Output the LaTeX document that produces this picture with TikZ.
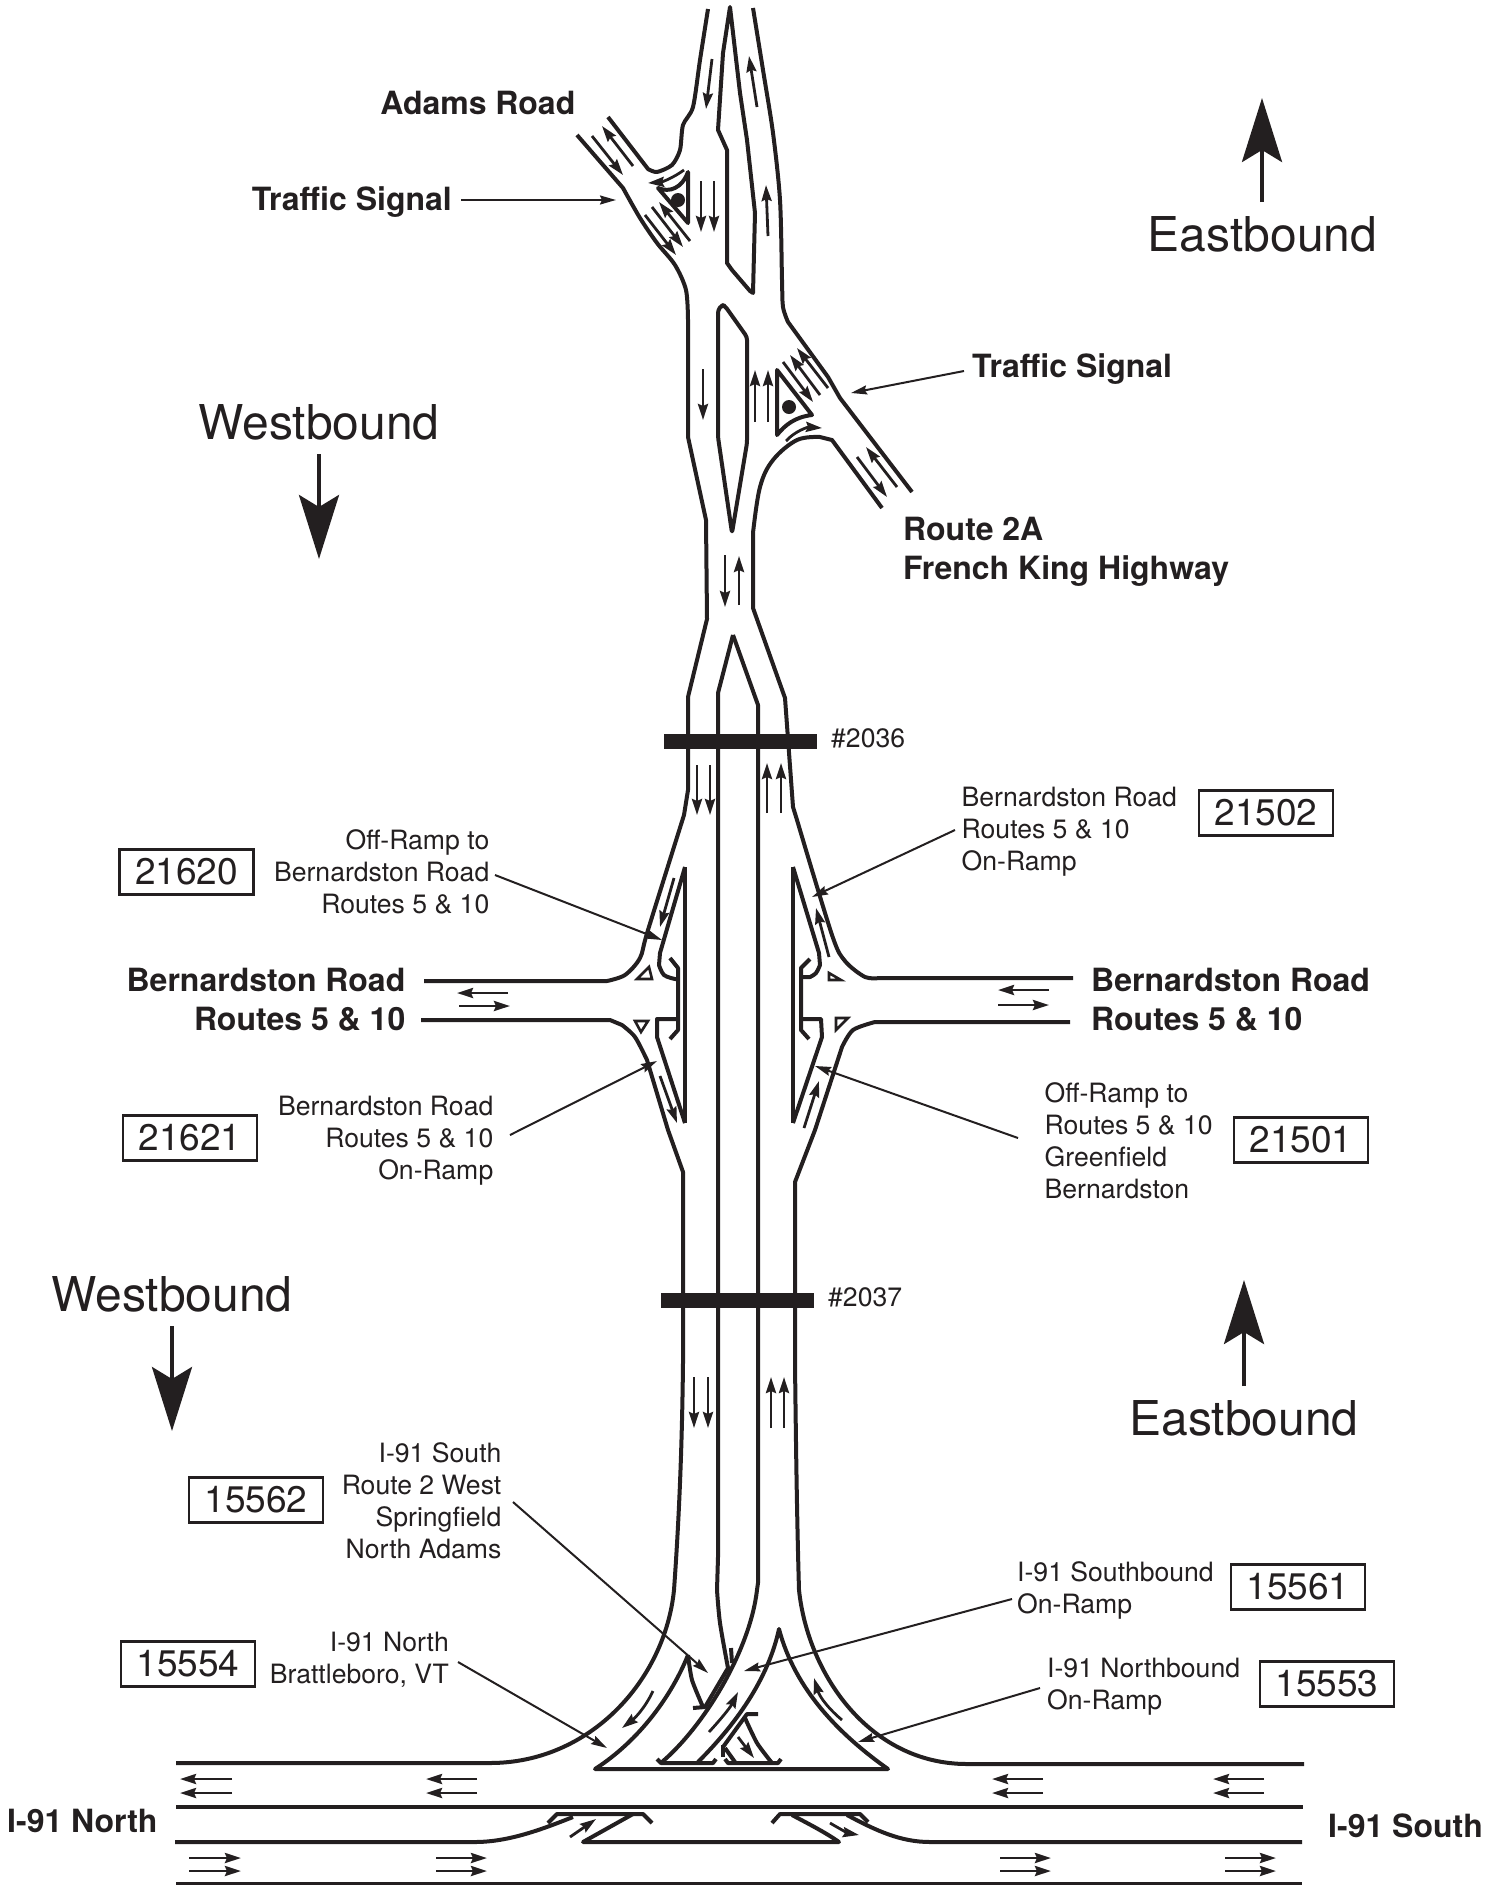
\documentclass[tikz,border=0pt]{standalone}
\usepackage{fontspec}
\setmainfont{TeX Gyre Heros}
\usetikzlibrary{arrows.meta}
\definecolor{ink}{HTML}{231F20}
\tikzset{
  road/.style={draw=ink,line width=4pt,line join=round},
  bar/.style={fill=ink,draw=none},
  trav/.style={draw=ink,line width=2.8pt,-{Stealth[length=16pt,width=10pt,inset=2pt]}},
  leader/.style={draw=ink,line width=2pt,-{Stealth[length=16pt,width=9pt,inset=2pt]}},
  compass/.style={draw=ink,line width=4pt,-{Stealth[length=64pt,width=40pt,inset=12pt]}},
  lbl/.style={text=ink,inner sep=0pt,font=\fontsize{26.6}{32}\selectfont},
  blbl/.style={text=ink,inner sep=0pt,font=\fontsize{32}{39}\selectfont\bfseries},
  dirlbl/.style={text=ink,inner sep=0pt,font=\fontsize{48}{57}\selectfont},
  numbox/.style={draw=ink,line width=2.6pt,text=ink,inner sep=0pt,minimum width=134pt,minimum height=45pt,font=\fontsize{37}{44}\selectfont},
  dot/.style={circle,fill=ink,inner sep=0pt,minimum size=14pt},
  tri/.style={draw=ink,line width=2.6pt,line join=miter}
}
\begin{document}
\begin{tikzpicture}[x=1pt,y=-1pt]
\path[use as bounding box] (0,0) rectangle (1500,1885);

%% Top section: outer edges
\draw[road] plot[smooth,tension=.45] coordinates {(708,9)(700,60)(693,107)(683,125)(680,150)(672,165)(657,172)(648,169)} -- (608,117);
\draw[road] (577,135) -- plot[smooth,tension=.5] coordinates {(623,188)(640,218)(657,243)(675,265)(686,290)(688,320)} -- (688,437) -- (706,520) -- (707,619) -- (688,697) -- (688,790) -- plot[smooth,tension=.5] coordinates {(684,815)(648,930)(640,958)(625,975)(607,981)} -- (424,981);
\draw[road] plot[smooth,tension=.5] coordinates {(753,8)(763,70)(773,133)(780,200)(782,280)(783,307)(788,322)} -- (828,377) -- (840,398) -- (912,492);
\draw[road] (882,508) -- (832,440) -- plot[smooth,tension=.6] coordinates {(820,437)(797,440)(773,460)(760,487)(753,533)} -- (753,608) -- (785,698) -- (793,807) -- plot[smooth,tension=.5] coordinates {(797,820)(832,935)(845,961)(865,977)(880,978)} -- (1073,978);
\draw[road] (1070,1022) -- plot[smooth,tension=.5] coordinates {(875,1022)(853,1030)(842,1047)} -- (815,1130) -- (795,1182) -- (795,1363) .. controls (796,1450) and (797,1520) .. (799,1590) .. controls (808,1675) and (870,1764) .. (967,1764) -- (1304,1764);
\draw[road] (421,1020) -- (610,1020) -- plot[smooth,tension=.5] coordinates {(622,1025)(635,1037)(647,1060)} -- (668,1130) -- (683,1172) -- (683,1363) .. controls (682,1450) and (679,1520) .. (674,1590) .. controls (665,1680) and (590,1763) .. (490,1763) -- (176,1763);

%% Medians
\draw[road] (730,7) -- (723,53) -- (718,130) -- (727,150) -- (727,263) -- (732,270) -- (750,291) -- (753,293) -- (755,213) -- (747,140) -- (740,93) -- cycle;
\draw[road,rounded corners=3pt] (722,305) -- (718,310) -- (718,437) -- (732,533) -- (747,443) -- (747,337) -- (725,306) -- cycle;
\draw[road] (733,635) -- (718,693) -- (718,1557) -- plot[smooth,tension=.5] coordinates {(717,1590)(720,1623)(728,1668)} -- (705,1707) -- (693,1708);
\draw[road] (733,635) -- (758,705) -- (758,1583) -- (757,1590) .. controls (750,1650) and (705,1725) .. (662,1762);
\draw[road] (731,1648) -- (732,1663);
\draw[road] plot[smooth,tension=.4] coordinates {(688,1655)(692,1680)(703,1707)};
\draw[road] (688,1655) .. controls (672,1695) and (640,1740) .. (595,1769) -- (888,1769) .. controls (840,1735) and (795,1690) .. (779,1629) .. controls (768,1680) and (735,1725) .. (698,1762);
\draw[road] (657,1759) -- (661,1763) -- (713,1763) -- (716,1759);
\draw[road] (758,1714) -- (747,1714) -- (723,1747);
\draw[road] (723,1745) -- (723,1757);
\draw[road] (725,1748) -- (735,1762);
\draw[road] (725,1759) -- (728,1763) -- (778,1763) -- (781,1759);
\draw[road] plot[smooth,tension=.4] coordinates {(745,1718)(757,1743)(772,1763)};

%% Signal islands
\draw[road] (688,172) -- (688,223) -- (658,188) .. controls (670,193) and (682,188) .. cycle;
\node[dot] (sigA) at (678,200) {};
\draw[road] (777,370) -- (777,435) .. controls (785,425) and (795,417) .. (812,415) -- cycle;
\node[dot] (sigB) at (789,407) {};

%% Bridges
\fill[bar] (664,734) rectangle (817,749);
\fill[bar] (661,1293) rectangle (814,1308);

%% Ramp islands, left
\draw[road] (685,867) -- (685,1123);
\draw[road] (685,867) -- (660,953) -- plot[smooth,tension=.6] coordinates {(659,965)(664,975)(675,979)} -- (678,979);
\draw[road] (670,958) -- (678,968) -- (678,1030) -- (670,1039);
\draw[road] (678,1019) -- (657,1019) -- (657,1037) -- (685,1123);
\draw[tri] (637,979) -- (652,979) -- (649,967) -- cycle;
\draw[tri] (635,1021) -- (648,1021) -- (641,1032) -- cycle;
%% Ramp islands, right
\draw[road] (793,867) -- (793,1123);
\draw[road] (793,867) -- (819,953) -- plot[smooth,tension=.6] coordinates {(820,965)(816,973)(810,977)} -- (802,977);
\draw[road] (810,959) -- (801,968) -- (801,1030) -- (809,1039);
\draw[road] (802,1019) -- (821,1019) -- (822,1037) -- (793,1123);
\draw[tri] (829,973) -- (829,980) -- (841,980) -- cycle;
\draw[tri] (836,1018) -- (848,1018) -- (836,1030) -- cycle;

%% I-91
\draw[road] (176,1807) -- (1303,1807);
\draw[road] (176,1884) -- (1302,1884);
\draw[road] (175,1842) -- (475,1842) .. controls (510,1842) and (545,1828) .. (573,1817);
\draw[road] (548,1823) -- (557,1814) -- (643,1814) -- (652,1823);
\draw[road] (633,1814) -- (583,1842) -- (839,1842) .. controls (825,1832) and (805,1822) .. (792,1815);
\draw[road] (772,1823) -- (780,1814) -- (860,1814) -- (868,1822);
\draw[road] (847,1815) .. controls (875,1830) and (900,1842) .. (930,1842) -- (1302,1842);

%% Travel arrows, top
\draw[trav] (712,59) -- (706,109);
\draw[trav] (757,107) -- (749,56);
\draw[trav] (768,236) -- (766,185);
\draw[trav] (701,181) -- (701,232);
\draw[trav] (714,181) -- (714,232);
\draw[trav] (633,166) -- (602,126);
\draw[trav] (592,136) -- (623,175);
\draw[trav] (684,170) .. controls (673,178) and (662,182) .. (648,183);
\draw[trav] (690,241) -- (659,202);
\draw[trav] (652,207) -- (683,247);
\draw[trav] (645,215) -- (676,255);
\draw[trav] (703,369) -- (703,420);
\draw[trav] (755,422) -- (755,370);
\draw[trav] (768,422) -- (768,370);
\draw[trav] (783,362) -- (813,402);
\draw[trav] (820,395) -- (790,355);
\draw[trav] (828,388) -- (797,348);
\draw[trav] (786,441) .. controls (795,431) and (808,427) .. (822,428);
\draw[trav] (857,457) -- (887,497);
\draw[trav] (897,487) -- (866,447);
\draw[trav] (725,555) -- (725,607);
\draw[trav] (739,605) -- (739,556);
\draw[trav] (697,765) -- (697,815);
\draw[trav] (710,765) -- (710,815);
\draw[trav] (767,813) -- (767,763);
\draw[trav] (781,813) -- (781,763);
%% Travel arrows, ramps
\draw[trav] (674,878) -- (660,927);
\draw[trav] (829,957) -- (816,908);
\draw[trav] (660,1076) -- (677,1123);
\draw[trav] (804,1128) -- (819,1081);
\draw[trav] (508,993) -- (457,993);
\draw[trav] (459,1006) -- (510,1006);
\draw[trav] (1049,990) -- (998,990);
\draw[trav] (998,1005) -- (1049,1005);
\draw[trav] (694,1377) -- (694,1428);
\draw[trav] (708,1377) -- (708,1428);
\draw[trav] (771,1428) -- (771,1377);
\draw[trav] (784,1428) -- (784,1377);
%% Travel arrows, interchange
\draw[trav] (653,1691) .. controls (645,1708) and (635,1718) .. (622,1728);
\draw[trav] (709,1732) .. controls (720,1720) and (730,1708) .. (738,1692);
\draw[trav] (842,1720) .. controls (830,1710) and (820,1698) .. (814,1678);
\draw[trav] (738,1737) -- (754,1758);
\draw[trav] (570,1837) -- (596,1819);
\draw[trav] (830,1823) .. controls (840,1829) and (848,1833) .. (859,1835);
%% Travel arrows, I-91
\foreach \a/\b in {232/180,477/426,1043/992,1264/1213}{
  \draw[trav] (\a,1779) -- (\b,1779);
  \draw[trav] (\a,1793) -- (\b,1793);
}
\foreach \a/\b in {189/241,436/487,1000/1051,1225/1276}{
  \draw[trav] (\a,1858) -- (\b,1858);
  \draw[trav] (\a,1871) -- (\b,1871);
}

%% Compass arrows and labels
\draw[compass] (1262,202) -- (1262,98);
\node[dirlbl] (eb1) at (1262.5,234) {Eastbound};
\node[dirlbl] (wb1) at (319,422) {Westbound};
\draw[compass] (319,454) -- (319,559);
\node[dirlbl] (wb2) at (172,1294) {Westbound};
\draw[compass] (172,1326) -- (172,1431);
\node[dirlbl] (eb2) at (1244,1418) {Eastbound};
\draw[compass] (1244,1386) -- (1244,1280);

%% Bold labels
\node[blbl,anchor=east] (adams) at (575.5,103) {Adams Road};
\node[blbl,anchor=east] (tsA) at (452,202) {Traffic Signal};
\node[blbl,anchor=west] (tsB) at (972,369) {Traffic Signal};
\node[blbl,anchor=west,align=left] (rt2a) at (903,552) {Route 2A\\French King Highway};
\node[blbl,anchor=east,align=right] (bernL) at (405.5,1000) {Bernardston Road\\Routes 5 \& 10};
\node[blbl,anchor=west,align=left] (bernR) at (1091,1000) {Bernardston Road\\Routes 5 \& 10};
\node[blbl,anchor=west] (i91n) at (7,1821) {I-91 North};
\node[blbl,anchor=west] (i91s) at (1328,1826) {I-91 South};

%% Bridge numbers
\node[lbl,anchor=west] (b2036) at (831,738) {\#2036};
\node[lbl,anchor=west] (b2037) at (828,1297) {\#2037};

%% Ramp labels
\node[lbl,anchor=east,align=right] (t21620) at (489.5,872) {Off-Ramp to\\Bernardston Road\\Routes 5 \& 10};
\node[lbl,anchor=west,align=left] (t21502) at (961.5,832) {Bernardston Road\\Routes 5 \& 10\\On-Ramp};
\node[lbl,anchor=east,align=right] (t21621) at (493.5,1141) {Bernardston Road\\Routes 5 \& 10\\On-Ramp};
\node[lbl,anchor=west,align=left] (t21501) at (1044.5,1141) {Off-Ramp to\\Routes 5 \& 10\\Greenfield\\Bernardston};
\node[lbl,anchor=east,align=right] (t15562) at (501.5,1501) {I-91 South\\Route 2 West\\Springfield\\North Adams};
\node[lbl,anchor=east,align=right] (t15554) at (449,1660) {I-91 North\\Brattleboro, VT};
\node[lbl,anchor=west,align=left] (t15561) at (1017,1590) {I-91 Southbound\\On-Ramp};
\node[lbl,anchor=west,align=left] (t15553) at (1047,1687) {I-91 Northbound\\On-Ramp};

%% Number boxes
\node[numbox] (n21502) at (1266,813) {21502};
\node[numbox] (n21620) at (186.5,872) {21620};
\node[numbox] (n21621) at (190,1138) {21621};
\node[numbox] (n21501) at (1301,1140) {21501};
\node[numbox] (n15562) at (256,1500) {15562};
\node[numbox] (n15554) at (188,1664) {15554};
\node[numbox] (n15561) at (1298,1587) {15561};
\node[numbox] (n15553) at (1327,1684) {15553};

%% Leader arrows
\coordinate (eA) at (616,200);
\coordinate (eB) at (851,393);
\coordinate (e21620) at (662,940);
\coordinate (e21621) at (657,1061);
\coordinate (e21502) at (812,897);
\coordinate (e21501) at (815,1066);
\coordinate (e15562) at (708,1673);
\coordinate (e15554) at (607,1748);
\coordinate (e15561) at (744,1671);
\coordinate (e15553) at (858,1742);
\coordinate (sA) at (461,200);
\coordinate (sB) at (964,371);
\coordinate (s21620) at (495,875);
\coordinate (s21621) at (510,1135);
\coordinate (s21502) at (955,830);
\coordinate (s21501) at (1018,1138);
\coordinate (s15562) at (513,1502);
\coordinate (s15554) at (458,1662);
\coordinate (s15561) at (1012,1599);
\coordinate (s15553) at (1040,1688);
\draw[leader] (sA) -- (eA);
\draw[leader] (sB) -- (eB);
\draw[leader] (s21620) -- (e21620);
\draw[leader] (s21621) -- (e21621);
\draw[leader] (s21502) -- (e21502);
\draw[leader] (s21501) -- (e21501);
\draw[leader] (s15562) -- (e15562);
\draw[leader] (s15554) -- (e15554);
\draw[leader] (s15561) -- (e15561);
\draw[leader] (s15553) -- (e15553);
\end{tikzpicture}
\end{document}
